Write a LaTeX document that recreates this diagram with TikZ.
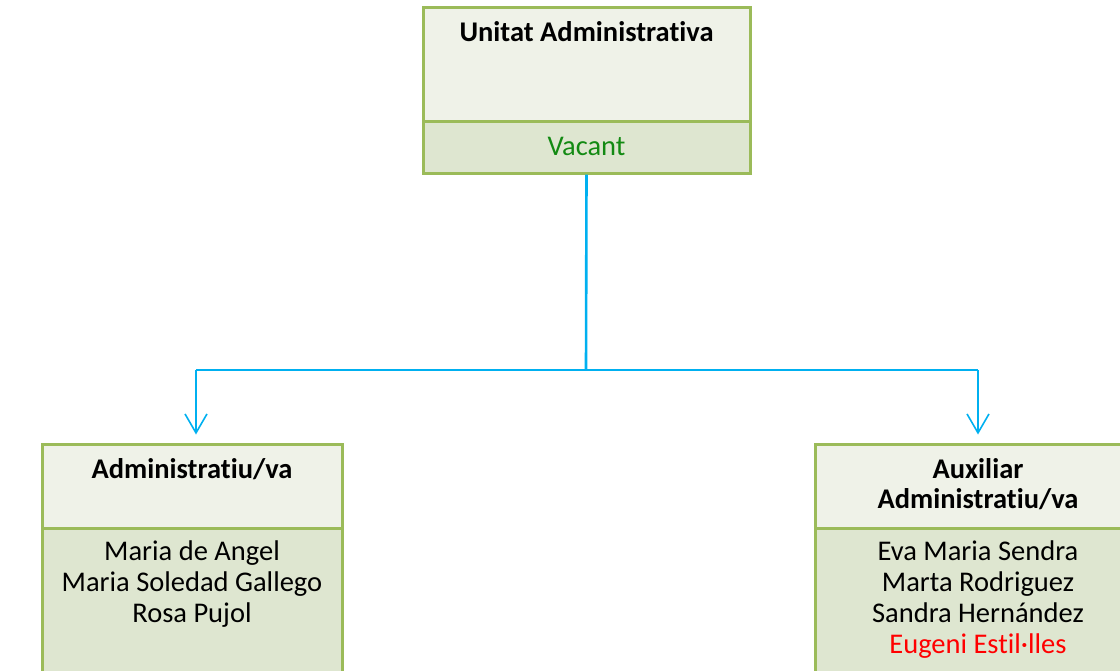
\documentclass[tikz,border=0pt]{standalone}
\usepackage{fontspec}
\setmainfont{Carlito}[Ligatures=CommonOff]
\usetikzlibrary{arrows.meta}
\definecolor{bordergreen}{HTML}{9BBB59}
\definecolor{hdrfill}{HTML}{EFF2E8}
\definecolor{bodyfill}{HTML}{DEE6D0}
\definecolor{linkblue}{HTML}{00B0F0}
\definecolor{vacgreen}{HTML}{138A13}
\definecolor{namered}{HTML}{FF0000}
\tikzset{
  x=1pt, y=-1pt,
  boxhdr/.style={draw=bordergreen, line width=3pt, fill=hdrfill, inner sep=0pt},
  boxbody/.style={draw=bordergreen, line width=3pt, fill=bodyfill, inner sep=0pt},
  txt/.style={font=\fontsize{28.5}{31}\selectfont, inner sep=0pt, align=center, anchor=base},
  btxt/.style={txt, font=\fontsize{28.5}{31}\selectfont\bfseries},
  trunk/.style={draw=linkblue, line width=2.6pt},
  branch/.style={draw=linkblue, line width=2.2pt},
  arrowline/.style={draw=linkblue, line width=1.6pt, -{Straight Barb[length=19pt,width=22pt,line width=1.6pt]}}
}
\begin{document}
\begin{tikzpicture}
\useasboundingbox (0,0) rectangle (1120,670);
\clip (0,0) rectangle (1120,670);
% top box
\node[boxhdr, minimum width=327pt, minimum height=114pt] (tophdr) at (586.5,64) {};
\node[boxbody, minimum width=327pt, minimum height=52pt] (topbody) at (586.5,147) {};
\node[btxt] (toptitle) at (586.5,41) {Unitat Administrativa};
\node[txt, text=vacgreen] (topname) at (586.5,155) {Vacant};
% left box
\node[boxhdr, minimum width=300pt, minimum height=84pt] (lefthdr) at (192,486) {};
\node[boxbody, minimum width=300pt, minimum height=160pt] (leftbody) at (192,608) {};
\node[btxt] (lefttitle) at (192,478) {Administratiu/va};
\node[txt] (leftn1) at (192,560) {Maria de Angel};
\node[txt] (leftn2) at (192,591) {Maria Soledad Gallego};
\node[txt] (leftn3) at (192,622) {Rosa Pujol};
% right box
\node[boxhdr, minimum width=326pt, minimum height=84pt] (righthdr) at (978,486) {};
\node[boxbody, minimum width=326pt, minimum height=160pt] (rightbody) at (978,608) {};
\node[btxt] (righttitle1) at (978,478) {Auxiliar};
\node[btxt] (righttitle2) at (978,508) {Administratiu/va};
\node[txt] (rightn1) at (978,560) {Eva Maria Sendra};
\node[txt] (rightn2) at (978,591) {Marta Rodriguez};
\node[txt] (rightn3) at (978,622) {Sandra Hernández};
\node[txt, text=namered] (rightn4) at (978,653) {Eugeni Estil·lles};
% connectors
\coordinate (junc) at (586,370);
\coordinate (jl) at (196,370);
\coordinate (jr) at (978,370);
\draw[trunk] (topbody.south) -- (junc);
\draw[branch] (jl) -- (jr);
\draw[arrowline] (jl) -- ([yshift=8pt]jl |- lefthdr.north);
\draw[arrowline] (jr) -- ([yshift=8pt]jr |- righthdr.north);
\end{tikzpicture}
\end{document}
